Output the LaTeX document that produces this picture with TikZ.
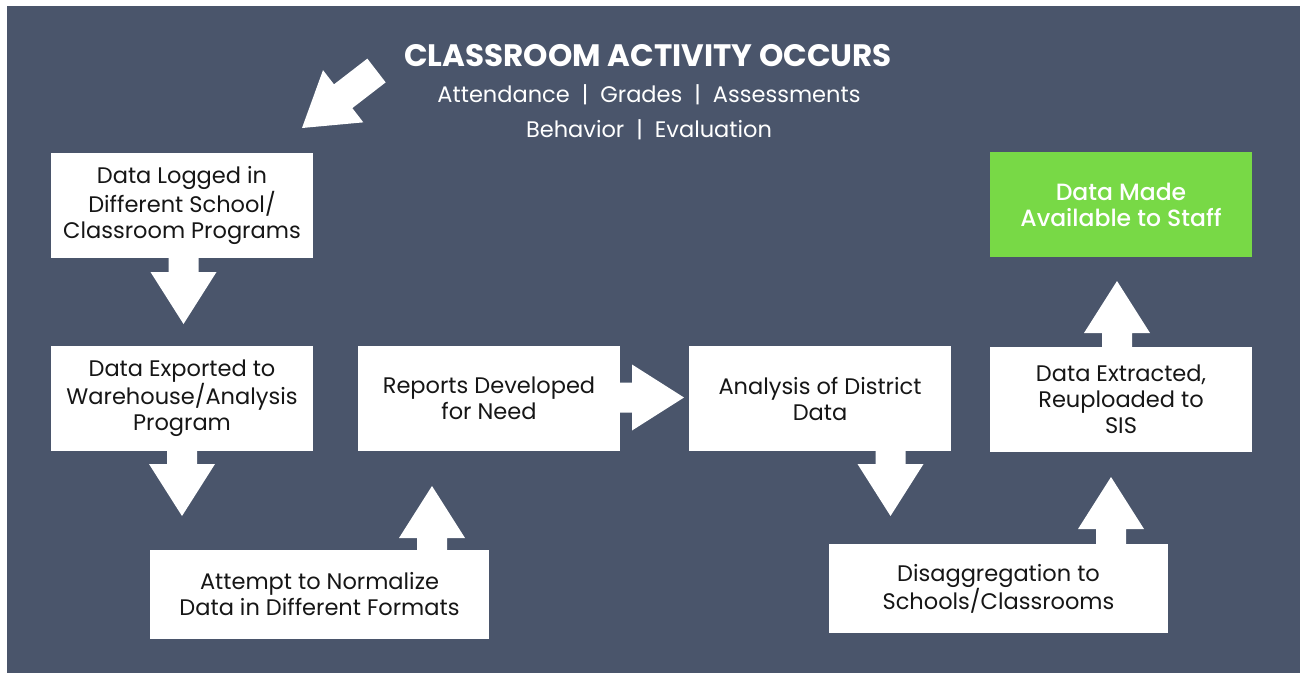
\documentclass[tikz,border=0pt]{standalone}
\usepackage{fontspec}
\setmainfont{Poppins}
\newfontfamily\mediumfont{Poppins}[UprightFont=* Medium]
\usetikzlibrary{calc}

\definecolor{slate}{RGB}{74,85,107}
\definecolor{staffgreen}{RGB}{120,217,70}
\definecolor{ink}{RGB}{22,22,22}

\tikzset{
  stepbox/.style={fill=white, text=ink, align=center, inner sep=0pt,
    minimum width=262pt, minimum height=105pt, font=\fontsize{22.5}{26}\selectfont},
  widebox/.style={stepbox, minimum width=339pt, minimum height=89pt},
  donebox/.style={stepbox, fill=staffgreen, text=white, font=\fontsize{23.5}{26}\mediumfont},
  headline/.style={text=white, anchor=base, inner sep=0pt, font=\fontsize{31}{34}\selectfont\bfseries},
  topics/.style={text=white, anchor=base, inner sep=0pt, font=\fontsize{22.5}{30}\selectfont},
}

\begin{document}
\begin{tikzpicture}[x=1pt,y=-1pt]
\useasboundingbox (0,0) rectangle (1300,673);
\fill[white] (0,0) rectangle (1300,673);
\fill[slate] (7,6) rectangle (1300,673);

% heading
\node[headline] (title) at (648,66) {CLASSROOM ACTIVITY OCCURS};
\node[topics] (topics1) at (649,102.7) {Attendance~~|~~Grades~~|~~Assessments};
\node[topics] (topics2) at (649,137.3) {Behavior~~|~~Evaluation};

% process steps
\node[stepbox] (logged) at (182,205.5) {Data Logged in\\Different School/\\Classroom Programs};
\node[stepbox] (exported) at (182,398.5) {Data Exported to\\Warehouse/Analysis\\Program};
\node[widebox] (normalize) at (319.5,594.5) {Attempt to Normalize\\Data in Different Formats};
\node[stepbox] (reports) at (489,398.5) {Reports Developed\\for Need};
\node[stepbox] (analysis) at (820,398.5) {Analysis of District\\Data};
\node[widebox] (disagg) at (998.5,588.5) {Disaggregation to\\Schools/Classrooms};
\node[stepbox] (extracted) at (1121,399.5) {Data Extracted,\\Reuploaded to\\SIS};
\node[donebox] (available) at (1121,204.5) {Data Made\\Available to Staff};

% arrow tips and tails
\coordinate (tip0) at (302,128);
\coordinate (tail0) at (376.5,70.5);
\coordinate (tip1) at (183.5,324);
\coordinate (tail1) at (logged.south -| tip1);
\coordinate (tip2) at (182,516);
\coordinate (tail2) at (exported.south -| tip2);
\coordinate (tip3) at (432,486);
\coordinate (tail3) at (normalize.north -| tip3);
\coordinate (tip4) at (684,397.5);
\coordinate (tail4) at (reports.east |- tip4);
\coordinate (tip5) at (890.5,516);
\coordinate (tail5) at (analysis.south -| tip5);
\coordinate (tip6) at (1111,477);
\coordinate (tail6) at (disagg.north -| tip6);
\coordinate (tip7) at (1117,281);
\coordinate (tail7) at (extracted.north -| tip7);

% block arrows
\foreach \s/\e in {tail0/tip0,tail1/tip1,tail2/tip2,tail3/tip3,tail4/tip4,tail5/tip5,tail6/tip6,tail7/tip7}{
  \coordinate (head) at ($(\e)!52pt!(\s)$);
  \fill[white] ($(\s)!15pt!90:(\e)$) -- ($(head)!15pt!90:(\e)$) -- ($(head)!33pt!90:(\e)$) -- (\e)
    -- ($(head)!33pt!-90:(\e)$) -- ($(head)!15pt!-90:(\e)$) -- ($(\s)!15pt!-90:(\e)$) -- cycle;
}
\end{tikzpicture}
\end{document}
